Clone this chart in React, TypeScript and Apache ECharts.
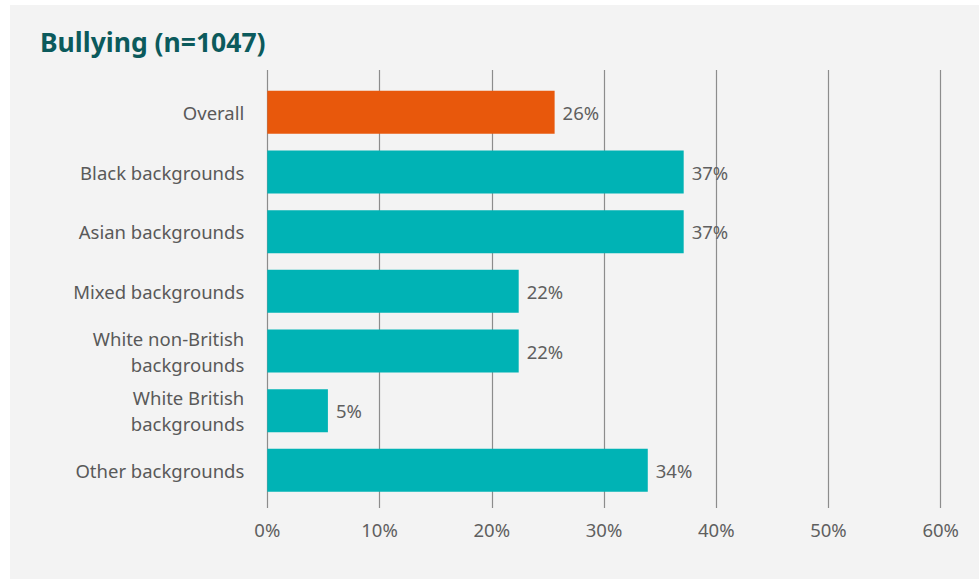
import React, { useEffect, useRef } from "react";
import * as echarts from "echarts";

const categories = [
  "Overall",
  "Black backgrounds",
  "Asian backgrounds",
  "Mixed backgrounds",
  "White non-British\nbackgrounds",
  "White British\nbackgrounds",
  "Other backgrounds",
];
const values = [25.6, 37.1, 37.1, 22.4, 22.4, 5.4, 33.9];
const highlightIndex = 0;
const title = "Bullying (n=1047)";
const xMin = 0;
const xMax = 60;
const xStep = 10;

const FONT = "'Noto Sans', 'Open Sans', sans-serif";
const ORANGE = "#E8580C";
const TEAL = "#00B3B5";
const BODY = 18.5;

export default function App() {
  const ref = useRef<HTMLDivElement>(null);
  useEffect(() => {
    if (!ref.current) return;
    const chart = echarts.init(ref.current, null, { renderer: "svg" });
    const left = 267.3;
    const right = 979 - 940.7;
    chart.setOption({
      animation: false,
      backgroundColor: "#ffffff",
      textStyle: { fontFamily: FONT },
      graphic: [
        {
          type: "rect",
          z: -10,
          shape: { x: 10, y: 5, width: 969, height: 574 },
          style: { fill: "#f3f3f3" },
        },
      ],
      title: {
        text: title,
        left: 40,
        top: 28,
        padding: 0,
        textStyle: {
          fontFamily: FONT,
          fontSize: 26.5,
          fontWeight: "bold",
          color: "#0B5A5C",
        },
      },
      grid: [
        { left, right, top: 70, bottom: 579 - 508 },
        { left, right, top: 82.5, bottom: 579 - 500.2 },
      ],
      xAxis: [
        {
          type: "value",
          gridIndex: 0,
          min: xMin,
          max: xMax,
          interval: xStep,
          axisLine: { show: false },
          axisTick: { show: false },
          splitLine: { show: true, lineStyle: { color: "#8c8c8c", width: 1.2 } },
          axisLabel: {
            formatter: "{value}%",
            color: "#5f5f5f",
            fontSize: BODY,
            fontFamily: FONT,
            margin: 12,
          },
        },
        {
          type: "value",
          gridIndex: 1,
          min: xMin,
          max: xMax,
          interval: xStep,
          show: false,
          splitLine: { show: false },
        },
      ],
      yAxis: [
        {
          type: "category",
          gridIndex: 0,
          data: categories,
          show: false,
        },
        {
          type: "category",
          gridIndex: 1,
          data: categories,
          inverse: true,
          axisLine: { show: false },
          axisTick: { show: false },
          splitLine: { show: false },
          axisLabel: {
            color: "#595959",
            fontSize: BODY,
            fontFamily: FONT,
            margin: 23,
            lineHeight: 26,
            align: "right",
          },
        },
      ],
      series: [
        {
          type: "bar",
          xAxisIndex: 1,
          yAxisIndex: 1,
          barWidth: 43,
          data: values.map((v, i) => ({
            value: v,
            itemStyle: { color: i === highlightIndex ? ORANGE : TEAL },
          })),
          label: {
            show: true,
            position: "right",
            distance: 8,
            color: "#5f5f5f",
            fontSize: BODY,
            fontFamily: FONT,
            formatter: (p: any) => Math.round(p.value) + "%",
          },
        },
      ],
    });
    return () => chart.dispose();
  }, []);
  return (
    <div style={{ position: "fixed", left: 0, top: 0, width: 979, height: 579 }}>
      <div ref={ref} style={{ width: 979, height: 579 }} />
    </div>
  );
}
